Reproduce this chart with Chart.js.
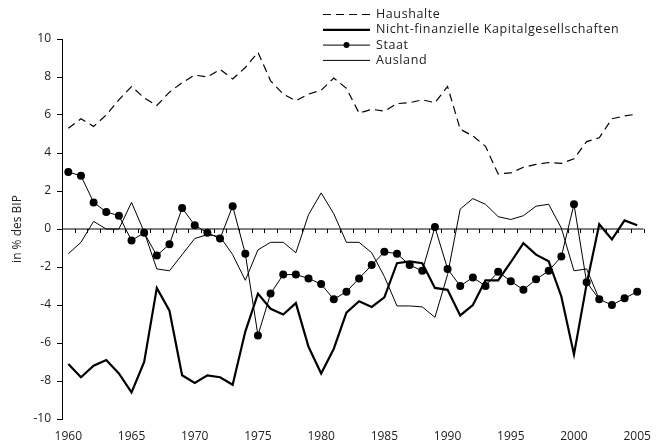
<!DOCTYPE html>
<html lang="de">
<head>
<meta charset="utf-8">
<title>Finanzierungssalden</title>
<script src="https://cdn.jsdelivr.net/npm/chart.js@4/dist/chart.umd.min.js"></script>
<style>
  html, body { margin: 0; padding: 0; background: #fff; }
  #wrap { position: relative; width: 661px; height: 448px; }
</style>
</head>
<body>
<div id="wrap"><canvas id="chartSalden" width="661" height="448"></canvas></div>
<script>
// ==========================================
// 1. DATEN
// ==========================================
const jahre = [];
for (let j = 1960; j <= 2005; j++) jahre.push(String(j));

const haushalte = [
  5.3, 5.8, 5.4, 6.0, 6.8, 7.5, 6.9, 6.5, 7.2, 7.7,
  8.1, 8.0, 8.4, 7.9, 8.5, 9.3, 7.8, 7.1, 6.75, 7.1,
  7.3, 7.95, 7.4, 6.1, 6.3, 6.2, 6.6, 6.65, 6.8, 6.65,
  7.5, 5.25, 4.9, 4.35, 2.9, 2.95, 3.25, 3.4, 3.5, 3.45,
  3.7, 4.6, 4.8, 5.8, 5.95, 6.05
];
const nichtFinKG = [
  -7.1, -7.8, -7.2, -6.9, -7.6, -8.6, -7.0, -3.1, -4.3, -7.7,
  -8.1, -7.7, -7.8, -8.2, -5.4, -3.4, -4.2, -4.5, -3.9, -6.2,
  -7.6, -6.3, -4.4, -3.8, -4.1, -3.6, -1.8, -1.7, -1.8, -3.1,
  -3.2, -4.55, -4.0, -2.7, -2.7, -1.75, -0.75, -1.35, -1.7, -3.55,
  -6.6, -2.9, 0.25, -0.55, 0.45, 0.2
];
const staat = [
  3.0, 2.8, 1.4, 0.9, 0.7, -0.6, -0.2, -1.4, -0.8, 1.1,
  0.2, -0.2, -0.5, 1.2, -1.3, -5.6, -3.4, -2.4, -2.4, -2.6,
  -2.9, -3.7, -3.3, -2.6, -1.9, -1.2, -1.3, -1.9, -2.2, 0.1,
  -2.1, -3.0, -2.55, -3.0, -2.25, -2.75, -3.2, -2.65, -2.2, -1.45,
  1.3, -2.8, -3.7, -4.0, -3.65, -3.3
];
const ausland = [
  -1.3, -0.7, 0.4, 0.0, 0.0, 1.4, -0.15, -2.1, -2.2, -1.35,
  -0.5, -0.3, -0.4, -1.35, -2.7, -1.1, -0.7, -0.7, -1.25, 0.75,
  1.9, 0.8, -0.7, -0.7, -1.25, -2.5, -4.05, -4.05, -4.1, -4.65,
  -2.4, 1.05, 1.6, 1.3, 0.65, 0.5, 0.7, 1.2, 1.3, 0.05,
  -2.2, -2.1, -3.7, null, null, null
];
const yTicks = [-10, -8, -6, -4, -2, 0, 2, 4, 6, 8, 10];

const SCHRIFT = "'Open Sans', 'DejaVu Sans', sans-serif";
const TEXTFARBE = '#222';

// ==========================================
// 2. PLUGINS: Nulllinie mit Teilstrichen + Legende
// ==========================================
const nullAchse = {
  id: 'nullAchse',
  beforeDatasetsDraw(chart) {
    const { ctx, scales: { x, y }, chartArea } = chart;
    const y0 = y.getPixelForValue(0);
    const breite = x.getPixelForValue(1) - x.getPixelForValue(0);
    ctx.save();
    ctx.strokeStyle = '#000';
    ctx.lineWidth = 1;
    ctx.beginPath();
    ctx.moveTo(chartArea.left, y0);
    ctx.lineTo(chartArea.right, y0);
    for (let i = 0; i <= jahre.length; i++) {
      const px = Math.round(x.getPixelForValue(i) - breite / 2) + 0.5;
      ctx.moveTo(px, y0);
      ctx.lineTo(px, y0 + 4);
    }
    ctx.stroke();
    ctx.restore();
  }
};

const legende = {
  id: 'legende',
  afterDatasetsDraw(chart) {
    const { ctx } = chart;
    const x1 = 323, x2 = 370, tx = 376;
    ctx.save();
    ctx.font = '12.5px ' + SCHRIFT;
    ctx.letterSpacing = '0.6px';
    ctx.textBaseline = 'middle';
    chart.data.datasets.forEach((ds, i) => {
      const yy = 14.5 + i * 15.3;
      ctx.strokeStyle = '#000';
      ctx.lineWidth = ds.borderWidth;
      ctx.setLineDash(ds.borderDash || []);
      ctx.beginPath();
      ctx.moveTo(x1, yy);
      ctx.lineTo(x2, yy);
      ctx.stroke();
      ctx.setLineDash([]);
      if (ds.pointRadius > 0) {
        ctx.fillStyle = '#000';
        ctx.beginPath();
        ctx.arc((x1 + x2) / 2, yy, 3, 0, Math.PI * 2);
        ctx.fill();
      }
      ctx.fillStyle = TEXTFARBE;
      ctx.fillText(ds.label, tx, yy);
    });
    ctx.restore();
  }
};

// ==========================================
// 3. DIAGRAMM
// ==========================================
new Chart(document.getElementById('chartSalden'), {
  type: 'line',
  data: {
    labels: jahre,
    datasets: [
      { label: 'Haushalte', data: haushalte, borderColor: '#000', borderWidth: 1.2,
        borderDash: [8, 5], pointRadius: 0, tension: 0 },
      { label: 'Nicht-finanzielle Kapitalgesellschaften', data: nichtFinKG, borderColor: '#000',
        borderWidth: 2.2, pointRadius: 0, tension: 0 },
      { label: 'Staat', data: staat, borderColor: '#000', borderWidth: 1,
        pointRadius: 4, pointBackgroundColor: '#000', pointBorderWidth: 0, tension: 0 },
      { label: 'Ausland', data: ausland, borderColor: '#000', borderWidth: 1,
        pointRadius: 0, tension: 0, spanGaps: false }
    ]
  },
  options: {
    responsive: false,
    animation: false,
    events: [],
    layout: { padding: { top: 39, right: 8, left: 0, bottom: 0 } },
    plugins: { legend: { display: false }, tooltip: { enabled: false } },
    scales: {
      x: {
        type: 'category',
        offset: true,
        afterFit(scale) { scale.height = 29; },
        border: { display: false },
        grid: { display: false, drawTicks: false },
        ticks: {
          autoSkip: false, maxRotation: 0, padding: 10,
          color: TEXTFARBE, font: { family: SCHRIFT, size: 12 },
          callback(val, idx) { return Number(jahre[idx]) % 5 === 0 ? jahre[idx] : ''; }
        }
      },
      y: {
        min: -10, max: 10,
        afterFit(scale) { scale.width = 62; },
        afterBuildTicks(scale) { scale.ticks = yTicks.map(v => ({ value: v })); },
        border: { display: true, color: '#000', width: 1 },
        grid: { drawOnChartArea: false, drawTicks: true, tickLength: 5, color: '#000' },
        ticks: { padding: 6, color: TEXTFARBE, font: { family: SCHRIFT, size: 12 } },
        title: { display: true, text: 'in % des BIP', color: TEXTFARBE,
          font: { family: SCHRIFT, size: 12 }, padding: { top: 10, bottom: 0 } }
      }
    }
  },
  plugins: [nullAchse, legende]
});
</script>
</body>
</html>
